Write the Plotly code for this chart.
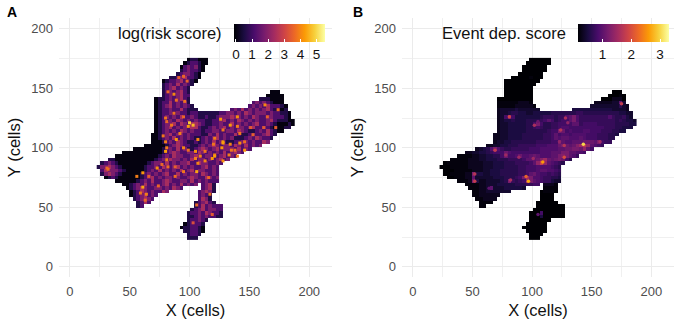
import plotly.graph_objects as go

# left edge of each row, as a column number; columns and rows are 3 cells wide
row_y = list(range(174, 21, -3))
col_x = [24 + 3 * i for i in range(55)]
row_start = [25, 24, 23, 23, 22, 20, 18, 18, 18, 18, 18, 16, 16, 16, 16, 16, 16, 16, 16, 16,
             16, 15, 15, 15, 13, 10, 7, 5, 3, 1, 0, 1, 1, 2, 5, 7, 8, 9, 9, 10, 11, 11, 26, 25,
             25, 25, 24, 23, 24, 25, 25]

# log(risk score), one digit per cell, in steps of 0.6
risk_rows = [
    "011000", "0122100", "0232310", "1232210", "1233210", "112342210", "0122342210",
    "123242321", "12342321",
    "12323421                      000",
    "12323422                     00000",
    "0112323421                   1110000",
    "0122423231                 232321000",
    "01234232321               23232422210",
    "012232242111         2324232323421101",
    "0122323221|2211111122|3323243233|32322110",
    "0123232422|3211211233|3433232432|23322210",
    "0122324323|2322112234|2324323232|234211100",
    "0123342432|4432112232|2423232342|232100010",
    "0123423232|4421123234|2323323422|32100011",
    "0123232432|3221223322|3324321123|242100",
    "0012342332|3222113242|3224211232|23421",
    "0012324232|3211232342|3231112324|3221",
    "0001232432|1121232423|2112233232|243",
    "0000001234|3221123234|3233243242|323",
    "0000000012|3242311234|3234233324|232",
    "0000000000|0123432233|2432323242|3432",
    "0000000000|0012324332|2343233223|4232",
    "1100000000|0001232433|2324233232|3423",
    "1232100000|0001233242|3233422433|2232",
    "1334321000|0001223243|2342323223|4232",
    "2433321000|0012324232|3242342332|232",
    "1343210000|0123232342|2423233243|232",
    "0121000000|1234232332|3223432243|23",
    "0000001232|4223432233|242323222",
    "0012324232|2342324232|3 2341",
    "0123432233|232432     2341",
    "0124323224|3        23431",
    "01234232           2321",
    "123432            2431",
    "1242            123421",
    "12              12423222",
    "123423322", "1223243221", "1123232211", "122321", "012221", "0112210", "112210",
    "1221", "111",
]

# brightest small spots of the risk score map
risk_spot_x = [61, 59, 64, 63, 56, 61, 73, 80, 81, 82, 81, 95, 88, 74, 106, 107, 105, 119, 121,
               105, 89, 95, 99, 113, 127, 107, 120, 128, 135, 116, 117, 106, 119, 103, 31, 32,
               66, 77, 88, 78, 80,
               163, 174, 165, 126, 140, 134, 140, 128, 142, 121, 128, 134, 142, 138, 146, 121,
               109, 133, 140, 153, 162, 151, 172, 113, 128, 146,
               95, 87, 89, 82, 98, 91, 80, 87, 96, 100, 103, 99, 92, 85, 95, 81]
risk_spot_y = [67, 62, 61, 56, 76, 79, 83, 97, 90, 84, 100, 80, 76, 68, 80, 87, 97, 91, 94,
               91, 107, 100, 98, 97, 100, 107, 103, 105, 98, 75, 61, 52, 44, 37, 83, 82,
               76, 86, 84, 110, 105,
               136, 132, 126, 124, 126, 119, 118, 115, 112, 108, 104, 103, 104, 98, 98, 93,
               93, 94, 93, 111, 117, 117, 117, 89, 89, 105,
               160, 145, 140, 147, 156, 159, 125, 129, 139, 121, 119, 118, 112, 119, 126, 122]
risk_spot_v = [4.4, 3.8, 3.9, 3.6, 3.9, 4.2, 4.1, 4.3, 3.9, 3.7, 3.9, 3.8, 3.7, 3.6, 4.4, 4.0, 4.1, 4.2, 3.9,
               3.9, 4.2, 4.0, 3.7, 3.8, 4.2, 4.0, 3.8, 4.3, 3.8, 3.6, 3.7, 3.6, 3.4, 3.2, 3.6, 3.7,
               3.5, 3.6, 3.5, 3.8, 3.9,
               4.0, 3.7, 3.5, 4.2, 4.1, 4.3, 3.9, 3.8, 3.8, 3.9, 4.3, 4.0, 4.1, 3.7, 4.2, 4.3,
               4.0, 3.9, 3.8, 3.5, 3.4, 3.4, 3.4, 4.0, 4.1, 3.7,
               3.6, 4.0, 3.7, 3.6, 3.5, 3.5, 3.8, 3.7, 3.8, 4.8, 4.6, 4.3, 3.9, 3.8, 3.6, 3.6]

# Event dep. score, one base-36 character per cell, in steps of 0.1
event_rows = [
    "000000", "0000000", "0000000", "0000000", "0000000", "000012100", "0000111000",
    "011111100", "01111110",
    "11111110                      011",
    "11111111                     11121",
    "1111111111                   1113331",
    "2222223332                 3333344a4",
    "22222333332               44444444643",
    "344445444444         5555555555544443",
    "3445665544|5555566666|6677666666|66665544",
    "348c855555|5567776779|ac97777777|79766754",
    "3455655566|6678a86788|ac97777777|777676554",
    "3445555566|8c86677888|8aa7888877|777666655",
    "3445555566|7876677899|8888888888|77766555",
    "3445555566|6666788cb8|9888998887|776655",
    "3344555566|6666778a89|9899998887|77665",
    "3344555566|6666778a9a|a999a98887|7766",
    "3445566666|66777788ca|99aaabbbac|877",
    "3344556667|7777888999|bcbabdfhea|987",
    "34569c9766|7777788899|999aabbccb|ea8",
    "3344556788|8b98888888|8999aaacca|a998",
    "2222334455|668b889b99|aba999aacd|ca97",
    "2222233344|5556667777|8aaabdfbab|cb86",
    "1222222333|3444555666|77778aeiea|9876",
    "1112222233|3344455566|6677888999|9876",
    "1112222233|3445556666|6778889aa9|987",
    "11222233c5|5445556666|6778ab9887|876",
    "1122233a44|4445556667|8cfc998776|65",
    "2223c53344|4456c7678f|ca9877544",
    "2222334445|5555666778|8 3332",
    "222334a444|555554     2222",
    "2233444444|4        12221",
    "22333333           1111",
    "223333            1111",
    "2222            111100",
    "22              11111100",
    "011111000", "1118110000", "1115110000", "011100", "000000", "0000000", "000000",
    "0000", "000",
]

# bright spots of the event dependence score map
event_spot_x = [175, 81, 128, 130, 102, 105, 124, 123, 127, 143, 157, 127, 69, 78, 89, 101, 109,
                52, 52, 82, 95, 97, 64, 105]
event_spot_y = [137, 126, 125, 121, 119, 122, 115, 105, 102, 103, 105, 92, 98, 94, 92, 91, 88,
                78, 72, 73, 76, 72, 66, 44]
event_spot_v = [1.8, 1.9, 1.6, 1.4, 1.6, 1.1, 1.7, 1.4, 1.7, 3.0, 1.5, 2.0, 1.8, 1.5, 1.5, 1.5, 2.6,
                1.7, 1.8, 1.6, 2.2, 2.7, 1.0, 1.0]

axis_ticks = [0, 50, 100, 150, 200]
minor_ticks = [25, 75, 125, 175]
risk_ticks = [0, 1, 2, 3, 4, 5]
event_ticks = [1, 2, 3]
tag_a, tag_b = "A", "B"
title_a, title_b = "log(risk score)", "Event dep. score"


def to_grid(rows, scale, base):
    grid = []
    for start, row in zip(row_start, rows):
        line = [None] * len(col_x)
        for i, ch in enumerate(row.replace("|", "")):
            if ch != " " and start + i < len(col_x):
                line[start + i] = int(ch, base) * scale
        grid.append(line)
    return grid


W, H = 680, 324
FONT = "Liberation Sans"


def colorbar(left, right, ticks):
    return dict(
        orientation="h", x=left / W, xanchor="left", y=1 - 24 / H, yanchor="top",
        len=(right - left) / W, lenmode="fraction", thickness=18, thicknessmode="pixels",
        xpad=0, ypad=0, outlinewidth=0, ticks="inside", ticklen=3, tickcolor="white",
        tickwidth=1, tickvals=ticks, ticktext=[str(t) for t in ticks],
        tickfont=dict(family=FONT, size=13.5, color="#111111"),
    )


def spots(x, y, v, lo, hi, size, symbol, xa, ya):
    return go.Scatter(
        x=x, y=y, mode="markers", hoverinfo="skip", xaxis=xa, yaxis=ya,
        marker=dict(color=v, colorscale="Inferno", cmin=lo, cmax=hi, size=size, symbol=symbol,
                    line_width=0, showscale=False),
    )


fig = go.Figure()
fig.add_trace(go.Heatmap(
    x=col_x, y=row_y, z=to_grid(risk_rows, 0.6, 10), colorscale="Inferno",
    zmin=-0.12, zmax=5.52, hoverongaps=False, colorbar=colorbar(234, 325, risk_ticks),
    xaxis="x", yaxis="y",
))
fig.add_trace(spots(risk_spot_x, risk_spot_y, risk_spot_v, -0.12, 5.52, 3, "square", "x", "y"))
fig.add_trace(go.Heatmap(
    x=col_x, y=row_y, z=to_grid(event_rows, 0.1, 36), colorscale="Inferno",
    zmin=0.15, zmax=3.31, hoverongaps=False, colorbar=colorbar(578, 669, event_ticks),
    xaxis="x2", yaxis="y2",
))
fig.add_trace(spots(event_spot_x, event_spot_y, event_spot_v, 0.15, 3.31, 3.5, "circle", "x2", "y2"))

axis_style = dict(
    tickvals=axis_ticks, ticktext=[str(t) for t in axis_ticks],
    tickfont=dict(family=FONT, size=13, color="#4d4d4d"),
    showgrid=True, gridcolor="#ebebeb", gridwidth=1, zeroline=False, showline=False,
    ticks="", ticklabelstandoff=5,
    minor=dict(tickvals=minor_ticks, showgrid=True, gridcolor="#f0f0f0", gridwidth=0.6),
    title_font=dict(family=FONT, size=16.5, color="#111111"),
)
xr = [-9, 219]
yr = [-8.5, 209]
top, bottom = 18, 277
fig.update_layout(
    width=W, height=H, margin=dict(l=0, r=0, t=0, b=0), autosize=False,
    paper_bgcolor="white", plot_bgcolor="white", showlegend=False,
    xaxis=dict(domain=[59 / W, 332 / W], range=xr, anchor="y",
               title=dict(text="X (cells)", standoff=6), **axis_style),
    yaxis=dict(domain=[1 - bottom / H, 1 - top / H], range=yr, anchor="x",
               title=dict(text="Y (cells)", standoff=6), **axis_style),
    xaxis2=dict(domain=[402 / W, 674 / W], range=xr, anchor="y2",
                title=dict(text="X (cells)", standoff=6), **axis_style),
    yaxis2=dict(domain=[1 - bottom / H, 1 - top / H], range=yr, anchor="x2",
                title=dict(text="Y (cells)", standoff=6), **axis_style),
    annotations=[
        dict(text=tag_a, x=5 / W, y=1 - 12 / H, xref="paper", yref="paper", xanchor="left",
             yanchor="middle", showarrow=False,
             font=dict(family=FONT, size=14, color="black", weight="bold")),
        dict(text=tag_b, x=351 / W, y=1 - 12 / H, xref="paper", yref="paper", xanchor="left",
             yanchor="middle", showarrow=False,
             font=dict(family=FONT, size=14, color="black", weight="bold")),
        dict(text=title_a, x=224 / W, y=1 - 33 / H, xref="paper", yref="paper", xanchor="right",
             yanchor="middle", showarrow=False, font=dict(family=FONT, size=16.5, color="#111111")),
        dict(text=title_b, x=568 / W, y=1 - 33 / H, xref="paper", yref="paper", xanchor="right",
             yanchor="middle", showarrow=False, font=dict(family=FONT, size=16.5, color="#111111")),
    ],
)
fig.write_html("out.html", config=dict(displayModeBar=False),
               post_script="document.body.style.margin='0';")
